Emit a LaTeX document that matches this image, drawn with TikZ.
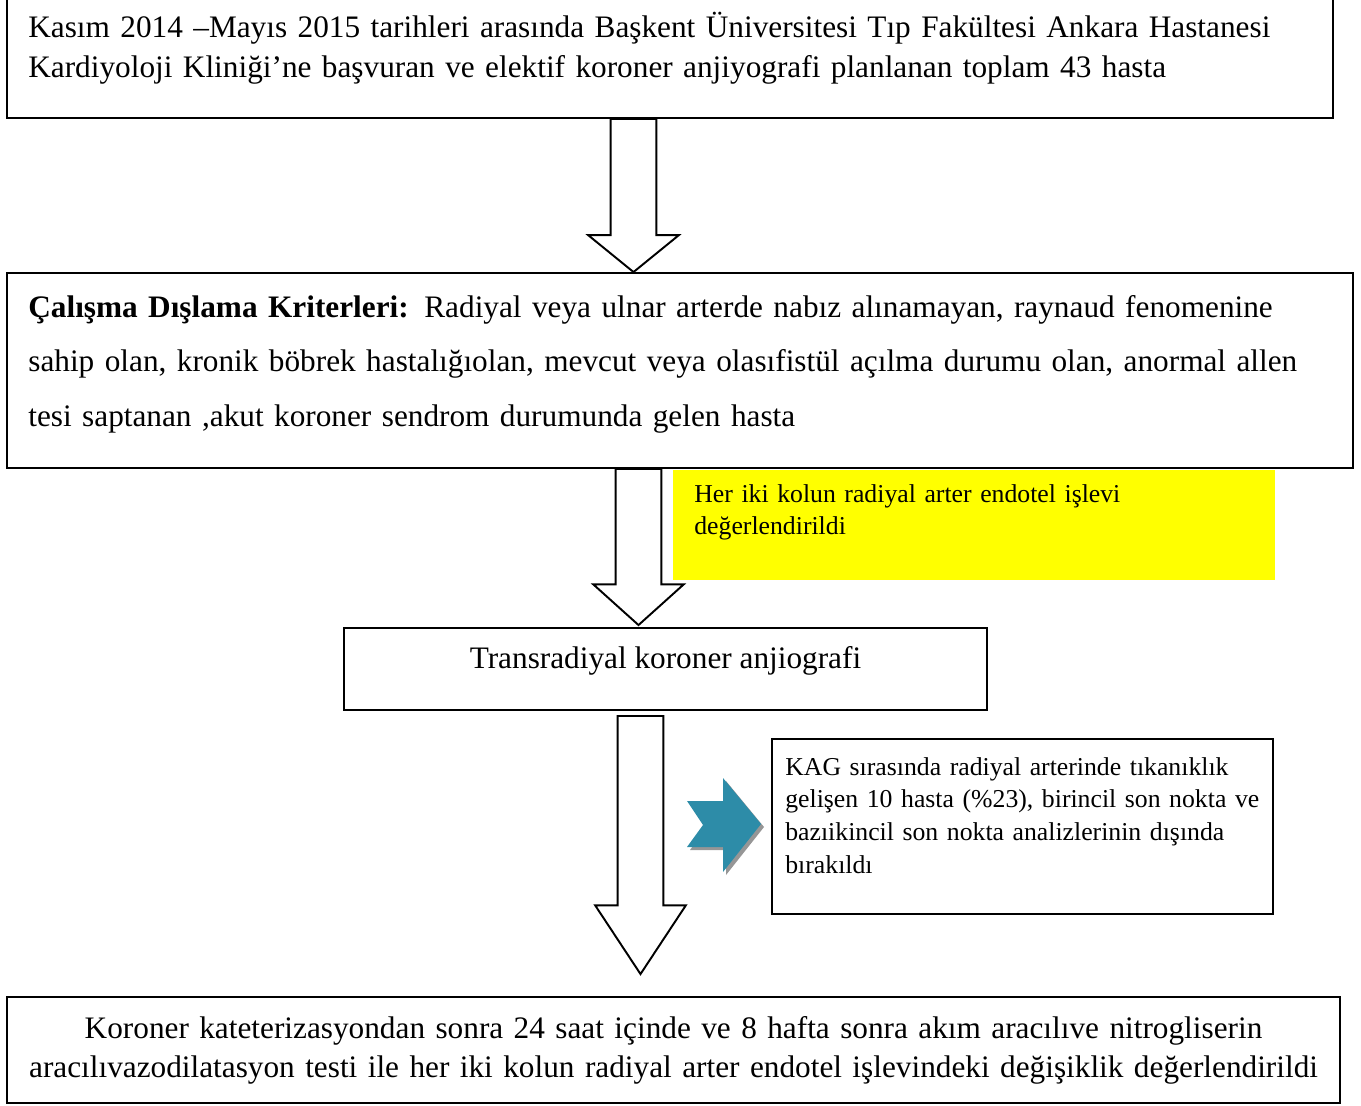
\documentclass[tikz,border=0pt]{standalone}
\usepackage{fontspec}
\setmainfont{Liberation Serif}
\usetikzlibrary{positioning, calc}

\definecolor{chevblue}{RGB}{45,140,168}
\definecolor{shadowgray}{RGB}{150,150,150}
\definecolor{markyellow}{RGB}{255,255,0}

% hollow block arrow from #1 down to the tip #2, head length #3
\newcommand{\fatarrow}[3]{%
  \draw[fatarrow] let \p1=(#1), \p2=(#2) in
    (\x1-13pt,\y1) -- (\x1-13pt,\y2+#3) -- (\x1-25.8pt,\y2+#3) -- (\x2,\y2)
    -- (\x1+25.8pt,\y2+#3) -- (\x1+13pt,\y2+#3) -- (\x1+13pt,\y1) -- cycle;
}

\begin{document}
\begin{tikzpicture}[x=0.02cm, y=-0.02cm,
    frame/.style={draw, line width=1.1pt, inner sep=0pt},
    maintext/.style={font=\fontsize{17.8}{22.6}\selectfont, inner sep=0pt},
    smalltext/.style={font=\fontsize{14.65}{18.7}\selectfont, inner sep=0pt, align=left, text width=11cm},
    fatarrow/.style={draw, line width=1.1pt, fill=white, line join=miter}]

        \useasboundingbox (0,0) rectangle (1361,1105);

        % frames
        \node[frame, minimum width=26.52cm, minimum height=2.42cm] (box1) at (670,57.5) {};
        \node[frame, minimum width=26.92cm, minimum height=3.9cm] (box2) at (680,370.5) {};
        \node[fill=markyellow, inner sep=0pt, minimum width=12.04cm, minimum height=2.2cm] (note1) at (974,525) {};
        \node[frame, minimum width=12.86cm, minimum height=1.64cm] (box3) at (665.5,669) {};
        \node[frame, line width=0.7pt, minimum width=10.02cm, minimum height=3.5cm] (note2) at (1022.5,826.5) {};
        \node[frame, minimum width=26.66cm, minimum height=2.12cm] (box5) at (673.5,1050) {};

        % texts
        \node[maintext, anchor=base west, align=left, text width=26cm] (txt1) at (28,38)
            {Kasım 2014 –Mayıs 2015 tarihleri arasında Başkent Üniversitesi Tıp Fakültesi Ankara Hastanesi\\
             Kardiyoloji Kliniği’ne başvuran ve elektif koroner anjiyografi planlanan toplam 43 hasta};
        \node[maintext, font=\fontsize{17.8}{31.2}\selectfont, anchor=base west, align=left, text width=26.1cm] (txt2) at (28,317)
            {\makebox[26.1cm][s]{\textbf{Çalışma Dışlama Kriterleri:} Radiyal veya ulnar arterde nabız alınamayan, raynaud fenomenine}\\
             \makebox[26.1cm][s]{sahip olan, kronik böbrek hastalığıolan, mevcut veya olasıfistül açılma durumu olan, anormal allen}\\
             tesi saptanan ,akut koroner sendrom durumunda gelen hasta};
        \node[smalltext, anchor=base west] (txt3) at (694,502)
            {Her iki kolun radiyal arter endotel işlevi\\ değerlendirildi};
        \node[maintext, anchor=base] (txt4) at (665.5,668) {Transradiyal koroner anjiografi};
        \node[smalltext, anchor=base west] (txt5) at (785,775)
            {KAG sırasında radiyal arterinde tıkanıklık\\ gelişen 10 hasta (\%23), birincil son nokta ve\\
             bazıikincil son nokta analizlerinin dışında\\ bırakıldı};
        \node[maintext, anchor=base, align=center, text width=26.4cm] (txt6) at (673.5,1038)
            {Koroner kateterizasyondan sonra 24 saat içinde ve 8 hafta sonra akım aracılıve nitrogliserin\\
             aracılıvazodilatasyon testi ile her iki kolun radiyal arter endotel işlevindeki değişiklik değerlendirildi};

        % block arrows
        \coordinate (a1) at (633.5,0);
        \coordinate (a2) at (638.5,0);
        \coordinate (a3) at (640.5,0);
        \fatarrow{box1.south -| a1}{box2.north -| a1}{21pt}
        \fatarrow{box2.south -| a2}{$(box3.north -| a2)+(0,-2)$}{23.2pt}
        \fatarrow{$(box3.south -| a3)+(0,5)$}{$(box5.north -| a3)+(0,-22)$}{39.1pt}

        % notched side arrow with its shadow
        \foreach \d/\c in {3/shadowgray, 0/chevblue} {
                \fill[\c, shift={(\d,\d)}] (687,801) -- (723,801) -- (723,778) -- (761,824)
                    -- (723,872) -- (723,847) -- (687,847) -- (703,825) -- cycle;
        }
        \end{tikzpicture}
\end{document}
